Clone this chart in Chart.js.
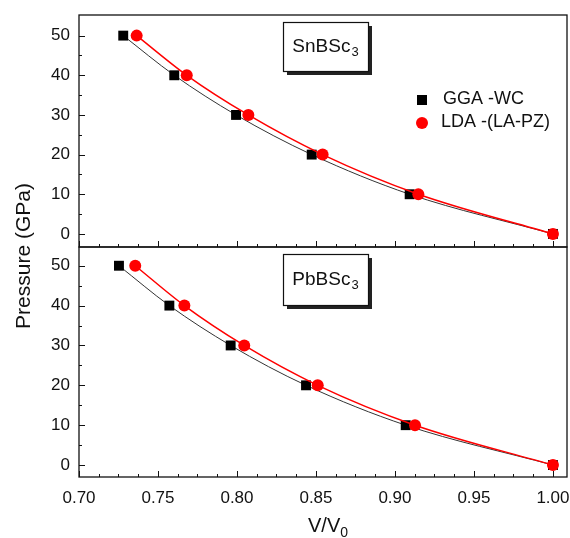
<!DOCTYPE html>
<html>
<head>
<meta charset="utf-8">
<script src="https://cdn.jsdelivr.net/npm/chart.js@4/dist/chart.umd.min.js"></script>
<style>
html,body{margin:0;padding:0;background:#fff;}
#wrap{position:relative;width:570px;height:538px;}
#wrap canvas{position:absolute;left:0;top:0;}
</style>
</head>
<body>
<div id="wrap">
<canvas id="c1" width="570" height="538"></canvas>
<canvas id="c2" width="570" height="538"></canvas>
</div>
<script>
// ---- data ----
const pressure = [50, 40, 30, 20, 10, 0];           // GPa
const snGGA = [0.7280, 0.7603, 0.7994, 0.8473, 0.9093, 1.0];   // V/V0, SnBSc3, GGA-WC
const snLDA = [0.7365, 0.7682, 0.8072, 0.8542, 0.9148, 1.0];   // V/V0, SnBSc3, LDA-(LA-PZ)
const pbGGA = [0.7253, 0.7572, 0.7960, 0.8437, 0.9068, 1.0];   // V/V0, PbBSc3, GGA-WC
const pbLDA = [0.7356, 0.7667, 0.8046, 0.8511, 0.9127, 1.0];   // V/V0, PbBSc3, LDA-(LA-PZ)
const yTicks = [0, 10, 20, 30, 40, 50];
const xTicks = [0.70, 0.75, 0.80, 0.85, 0.90, 0.95, 1.00];
const seriesNames = ['GGA -WC', 'LDA -(LA-PZ)'];
const panelNames = ['SnBSc', 'PbBSc'];

const FONT = '"Liberation Sans", Arial, sans-serif';

function pts(xs) { return xs.map((x, i) => ({x: x, y: pressure[i]})); }

function datasets(gga, lda) {
  return [
    {label: seriesNames[1], data: pts(lda), showLine: true, borderColor: '#ff0000', borderWidth: 1.5,
     backgroundColor: '#ff0000', pointStyle: 'circle', pointRadius: 6, pointBorderWidth: 0,
     cubicInterpolationMode: 'monotone', order: 0},
    {label: seriesNames[0], data: pts(gga), showLine: true, borderColor: '#333333', borderWidth: 1,
     backgroundColor: '#000000', pointStyle: 'rect', pointRadius: 7, pointBorderWidth: 0,
     cubicInterpolationMode: 'monotone', order: 1}
  ];
}

function drawFrameAndTicks(chart) {
  const ctx = chart.ctx, a = chart.chartArea, xs = chart.scales.x, ys = chart.scales.y;
  ctx.save();
  ctx.strokeStyle = '#111';
  ctx.lineWidth = 1.3;
  ctx.strokeRect(a.left, a.top, a.right - a.left, a.bottom - a.top);
  ctx.lineWidth = 1;
  ctx.beginPath();
  for (let v = 0; v <= 50; v += 5) {
    const y = Math.round(ys.getPixelForValue(v)) + 0.5;
    const len = (v % 10 === 0) ? 6 : 3;
    ctx.moveTo(a.left, y); ctx.lineTo(a.left + len, y);
  }
  for (let i = 0; i <= 24; i++) {
    const v = 0.70 + i * 0.0125;
    const x = Math.round(xs.getPixelForValue(v)) + 0.5;
    const len = (i % 4 === 0) ? 6 : 3;
    ctx.moveTo(x, a.bottom); ctx.lineTo(x, a.bottom - len);
  }
  ctx.stroke();
  ctx.restore();
}

function drawLabelBox(chart, x, y, w, h, name) {
  const ctx = chart.ctx;
  ctx.save();
  ctx.fillStyle = '#222';
  ctx.fillRect(x + 4, y + 4, w, h);
  ctx.fillStyle = '#fff';
  ctx.fillRect(x, y, w, h);
  ctx.strokeStyle = '#111';
  ctx.lineWidth = 1.2;
  ctx.strokeRect(x + 0.5, y + 0.5, w, h);
  ctx.fillStyle = '#111';
  ctx.textBaseline = 'middle';
  ctx.font = '19px ' + FONT;
  const mw = ctx.measureText(name).width;
  ctx.font = '13px ' + FONT;
  const sw = ctx.measureText('3').width;
  const tx = x + w / 2 - (mw + sw + 1) / 2;
  ctx.font = '19px ' + FONT;
  ctx.textAlign = 'left';
  ctx.fillText(name, tx, y + h / 2);
  ctx.font = '13px ' + FONT;
  ctx.fillText('3', tx + mw + 1, y + h / 2 + 6);
  ctx.restore();
}

const topPlugin = {
  id: 'topDeco',
  afterDatasetsDraw(chart) {
    drawFrameAndTicks(chart);
    drawLabelBox(chart, 283, 22, 85, 49, panelNames[0]);
    const ctx = chart.ctx;
    ctx.save();
    ctx.fillStyle = '#000';
    ctx.fillRect(417, 95, 10, 10);
    ctx.fillStyle = '#ff0000';
    ctx.beginPath(); ctx.arc(422, 123, 6, 0, Math.PI * 2); ctx.fill();
    ctx.fillStyle = '#111';
    ctx.font = '18px ' + FONT;
    ctx.textBaseline = 'middle';
    ctx.textAlign = 'left';
    ctx.fillText(seriesNames[0], 443, 99);
    ctx.fillText(seriesNames[1], 441, 122);
    ctx.restore();
  }
};

const bottomPlugin = {
  id: 'bottomDeco',
  afterDatasetsDraw(chart) {
    drawFrameAndTicks(chart);
    drawLabelBox(chart, 283, 254, 85, 51, panelNames[1]);
    const ctx = chart.ctx;
    ctx.save();
    ctx.fillStyle = '#111';
    ctx.translate(24, 256);
    ctx.rotate(-Math.PI / 2);
    ctx.font = '21px ' + FONT;
    ctx.textAlign = 'center';
    ctx.textBaseline = 'middle';
    ctx.fillText('Pressure (GPa)', 0, 0);
    ctx.restore();
    ctx.save();
    ctx.fillStyle = '#111';
    ctx.font = '20px ' + FONT;
    ctx.textBaseline = 'alphabetic';
    const main = 'V/V';
    const mw = ctx.measureText(main).width;
    ctx.font = '14px ' + FONT;
    const sw = ctx.measureText('0').width;
    const x0 = 328 - (mw + sw) / 2;
    ctx.font = '20px ' + FONT;
    ctx.fillText(main, x0, 532);
    ctx.font = '14px ' + FONT;
    ctx.fillText('0', x0 + mw, 537);
    ctx.restore();
  }
};

function yScale(min, max) {
  return {
    type: 'linear', min: min, max: max,
    afterBuildTicks: s => { s.ticks = yTicks.map(v => ({value: v})); },
    afterFit: s => { s.width = 79; s.paddingTop = 0; s.paddingBottom = 0; },
    grid: {display: false, drawTicks: false},
    border: {display: false},
    ticks: {font: {size: 17, family: FONT}, color: '#111', padding: 9}
  };
}

const xMin = 0.70, xMax = 1.0089;

new Chart(document.getElementById('c1'), {
  type: 'scatter',
  data: {datasets: datasets(snGGA, snLDA)},
  options: {
    responsive: false, animation: false,
    layout: {autoPadding: false, padding: {left: 0, top: 15, right: 3, bottom: 291}},
    plugins: {legend: {display: false}, tooltip: {enabled: false}},
    scales: {
      x: {type: 'linear', min: xMin, max: xMax, display: false},
      y: yScale(-3.3, 55.2)
    }
  },
  plugins: [topPlugin]
});

new Chart(document.getElementById('c2'), {
  type: 'scatter',
  data: {datasets: datasets(pbGGA, pbLDA)},
  options: {
    responsive: false, animation: false,
    layout: {autoPadding: false, padding: {left: 0, top: 247, right: 3, bottom: 0}},
    plugins: {legend: {display: false}, tooltip: {enabled: false}},
    scales: {
      x: {
        type: 'linear', min: xMin, max: xMax,
        afterBuildTicks: s => { s.ticks = xTicks.map(v => ({value: v})); },
        afterFit: s => { s.height = 61; s.paddingLeft = 0; s.paddingRight = 0; },
        grid: {display: false, drawTicks: false},
        border: {display: false},
        ticks: {font: {size: 17, family: FONT}, color: '#111', padding: 11, maxRotation: 0,
                callback: v => Number(v).toFixed(2)}
      },
      y: yScale(-3.0, 54.7)
    }
  },
  plugins: [bottomPlugin]
});
</script>
</body>
</html>
